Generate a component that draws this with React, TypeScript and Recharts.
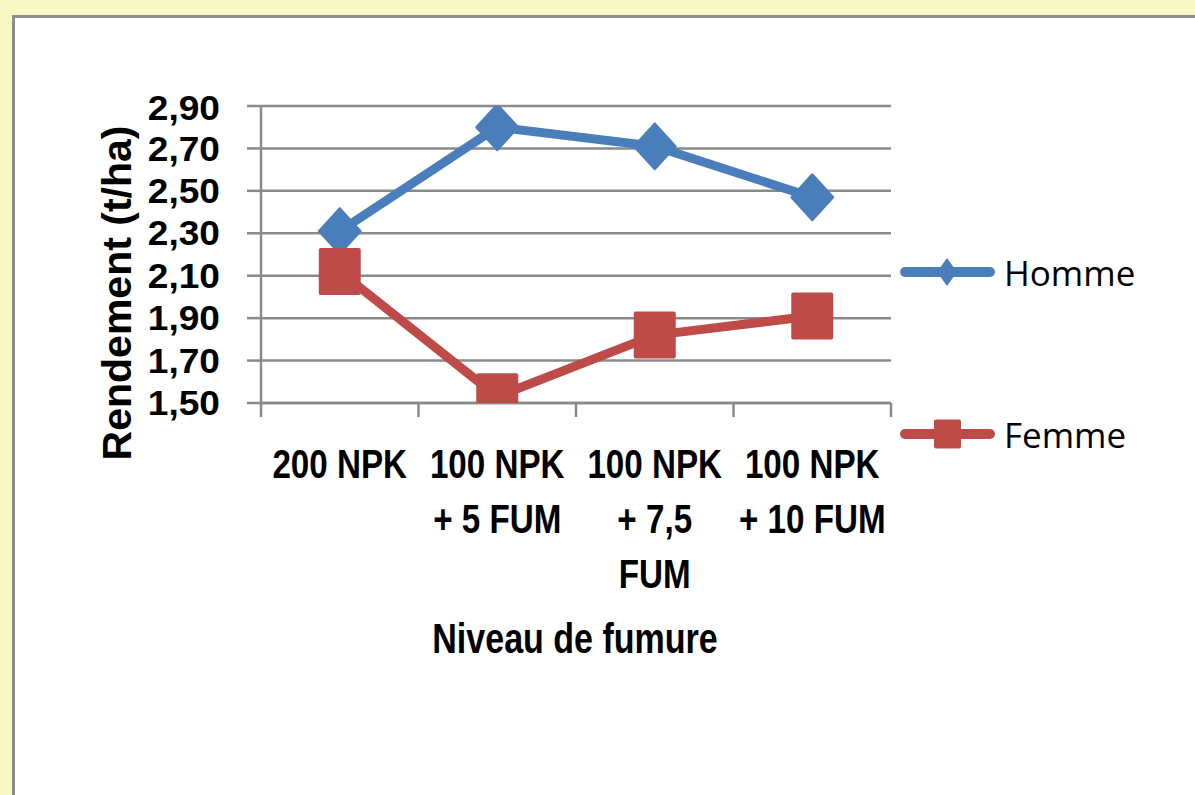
import React from "react";
import { LineChart, Line, XAxis, YAxis, CartesianGrid } from "recharts";

// valeurs
const categories = ["200 NPK", "100 NPK + 5 FUM", "100 NPK + 7,5 FUM", "100 NPK + 10 FUM"];
const categoryLines = [["200 NPK"], ["100 NPK", "+ 5 FUM"], ["100 NPK", "+ 7,5", "FUM"], ["100 NPK", "+ 10 FUM"]];
const homme = [2.31, 2.8, 2.71, 2.47];
const femme = [2.12, 1.53, 1.82, 1.91];
const yTicks = [1.5, 1.7, 1.9, 2.1, 2.3, 2.5, 2.7, 2.9];

const data = categories.map((name, i) => ({ name, homme: homme[i], femme: femme[i] }));

const W = 1195;
const H = 795;
const PLOT_LEFT = 261;
const PLOT_TOP = 106;
const PLOT_RIGHT = 891;
const PLOT_BOTTOM = 403;
const PLOT_W = PLOT_RIGHT - PLOT_LEFT;
const Y_AXIS_W = 150;
const X_AXIS_H = 280;

const BLUE = "#4a7ebb";
const RED = "#be4b48";
const GRID = "#8a8a8a";
const BOLD = '"Liberation Sans", Arial, sans-serif';
const LEGEND_FONT = '"Open Sans", "Noto Sans", sans-serif';

const fmt = (v: number) => v.toFixed(2).replace(".", ",");
// squeeze text horizontally around cx (no condensed font installed)
const narrow = (cx: number, s: number) => `matrix(${s} 0 0 1 ${cx * (1 - s)} 0)`;

const Diamond = (props: any) => {
  const { cx, cy, index } = props;
  if (cx == null || cy == null) return null;
  return (
    <path
      key={`d-${index}`}
      d={`M${cx},${cy - 23} L${cx + 21},${cy} L${cx},${cy + 23} L${cx - 21},${cy} Z`}
      fill={BLUE}
      stroke={BLUE}
      strokeWidth={2}
      strokeLinejoin="round"
    />
  );
};

const Square = (props: any) => {
  const { cx, cy, index } = props;
  if (cx == null || cy == null) return null;
  return (
    <rect key={`s-${index}`} x={cx - 21} y={cy - 23.5} width={42} height={47} rx={2} fill={RED} />
  );
};

const YTick = (props: any) => {
  const { x, y, payload } = props;
  const nudge = payload.value === 2.9 ? 2 : 0;
  return (
    <text
      x={x}
      y={y + nudge}
      textAnchor="end"
      dominantBaseline="central"
      transform={`matrix(1.06 0 0 1 ${-x * 0.06} 0)`}
      fontFamily={BOLD}
      fontWeight="bold"
      fontSize={35}
      fill="#000"
    >
      {fmt(payload.value)}
    </text>
  );
};

const XTick = (props: any) => {
  const { x, payload } = props;
  const i = categories.indexOf(payload.value);
  const lines = categoryLines[i] || [payload.value];
  const half = PLOT_W / categories.length / 2;
  return (
    <g>
      <line x1={x - half} x2={x - half} y1={PLOT_BOTTOM} y2={PLOT_BOTTOM + 14} stroke={GRID} strokeWidth={2.5} />
      {i === categories.length - 1 && (
        <line x1={x + half} x2={x + half} y1={PLOT_BOTTOM} y2={PLOT_BOTTOM + 14} stroke={GRID} strokeWidth={2.5} />
      )}
      <text
        textAnchor="middle"
        transform={narrow(x, 0.83)}
        fontFamily={BOLD}
        fontWeight="bold"
        fontSize={40}
        fill="#000"
      >
        {lines.map((l, k) => (
          <tspan key={k} x={x} y={PLOT_BOTTOM + 75 + k * 55}>
            {l}
          </tspan>
        ))}
      </text>
    </g>
  );
};

const legendItems = [
  { name: "Homme", color: BLUE, shape: "diamond", y: 272 },
  { name: "Femme", color: RED, shape: "square", y: 434 },
];

function LegendBox() {
  return (
    <svg width={300} height={795} style={{ position: "absolute", left: 890, top: 0 }}>
      {legendItems.map((it) => (
        <g key={it.name}>
          <line x1={15} x2={100} y1={it.y} y2={it.y} stroke={it.color} strokeWidth={10} strokeLinecap="round" />
          {it.shape === "diamond" ? (
            <path d={`M57,${it.y - 14} L67,${it.y} L57,${it.y + 14} L47,${it.y} Z`} fill={it.color} />
          ) : (
            <rect x={44} y={it.y - 14.5} width={27} height={29} rx={2} fill={it.color} />
          )}
          <text x={114} y={it.y} dominantBaseline="central" fontFamily={LEGEND_FONT} fontSize={35} fill="#000">
            {it.name}
          </text>
        </g>
      ))}
    </svg>
  );
}

export default function App() {
  return (
    <div style={{ position: "absolute", left: 0, top: 0, width: W, height: H, background: "#f8f8c4", overflow: "hidden" }}>
      <div
        style={{
          position: "absolute",
          left: 12,
          top: 15,
          width: W,
          height: H,
          background: "#fff",
          border: "3px solid #8d8d8d",
        }}
      />
      <div style={{ position: "absolute", left: 0, top: 0 }}>
        <LineChart
          width={W}
          height={H}
          data={data}
          margin={{
            top: PLOT_TOP,
            right: W - PLOT_RIGHT,
            left: PLOT_LEFT - Y_AXIS_W,
            bottom: H - PLOT_BOTTOM - X_AXIS_H,
          }}
        >
          <CartesianGrid vertical={false} stroke={GRID} strokeWidth={2.5} />
          <XAxis
            dataKey="name"
            scale="band"
            height={X_AXIS_H}
            interval={0}
            axisLine={{ stroke: GRID, strokeWidth: 2.5 }}
            tickLine={false}
            tick={<XTick />}
            label={() => (
              <text
                x={575}
                y={653}
                textAnchor="middle"
                transform={narrow(575, 0.81)}
                fontFamily={BOLD}
                fontWeight="bold"
                fontSize={42}
                fill="#000"
              >
                Niveau de fumure
              </text>
            )}
          />
          <YAxis
            domain={[1.5, 2.9]}
            ticks={yTicks}
            allowDataOverflow
            width={Y_AXIS_W}
            tickSize={14}
            tickMargin={27}
            axisLine={{ stroke: GRID, strokeWidth: 2.5 }}
            tickLine={{ stroke: GRID, strokeWidth: 2.5 }}
            tick={<YTick />}
            label={() => (
              <text
                x={117}
                y={293}
                transform="rotate(-90 117 293)"
                textAnchor="middle"
                dominantBaseline="central"
                fontFamily={BOLD}
                fontWeight="bold"
                fontSize={41}
                fill="#000"
              >
                Rendement (t/ha)
              </text>
            )}
          />
          <Line
            dataKey="homme"
            name="Homme"
            type="linear"
            stroke={BLUE}
            strokeWidth={9}
            strokeLinecap="round"
            strokeLinejoin="round"
            dot={Diamond}
            activeDot={false}
            isAnimationActive={false}
          />
          <Line
            dataKey="femme"
            name="Femme"
            type="linear"
            stroke={RED}
            strokeWidth={9}
            strokeLinecap="round"
            strokeLinejoin="round"
            dot={Square}
            activeDot={false}
            isAnimationActive={false}
          />
        </LineChart>
      </div>
      <LegendBox />
    </div>
  );
}
